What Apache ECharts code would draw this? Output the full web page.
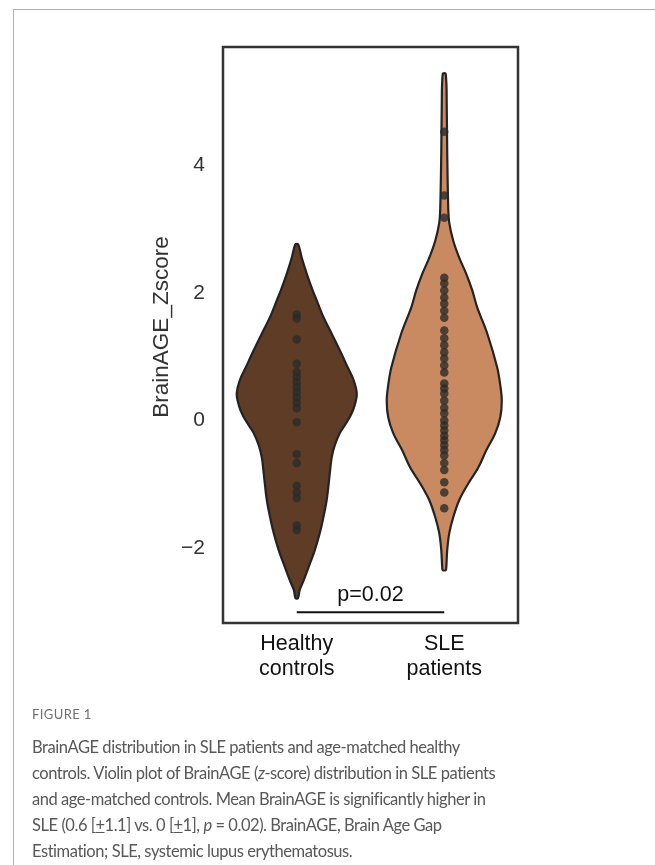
<!DOCTYPE html>
<html><head><meta charset="utf-8">
<script src="https://cdn.jsdelivr.net/npm/echarts@6/dist/echarts.min.js"></script>
<style>
html,body{margin:0;padding:0;background:#fff;}
#wrap{position:relative;width:655px;height:865px;overflow:hidden;background:#fff;}
#frame{position:absolute;left:13px;top:9px;width:760px;height:900px;border-left:1.5px solid #b4b4b4;border-top:1.5px solid #b4b4b4;}
#chart{position:absolute;left:0;top:0;width:655px;height:865px;}
#cap{position:absolute;left:32px;top:704px;width:610px;font-family:Lato,'Open Sans',sans-serif;color:#585858;}
#cap .fig{font-size:13px;letter-spacing:0.4px;color:#707070;line-height:20px;margin-bottom:10px;}
#cap .txt{font-size:16.5px;line-height:26px;letter-spacing:-0.45px;}
#cap u{text-decoration:underline;}
</style></head>
<body><div id="wrap"><div id="frame"></div><div id="chart"></div>
<div id="cap"><div class="fig">FIGURE 1</div><div class="txt">BrainAGE distribution in SLE patients and age-matched healthy<br>controls. Violin plot of BrainAGE (<i>z</i>-score) distribution in SLE patients<br>and age-matched controls. Mean BrainAGE is significantly higher in<br>SLE (0.6 [<u>+</u>1.1] vs. 0 [<u>+</u>1], <i>p</i> = 0.02). BrainAGE, Brain Age Gap<br>Estimation; SLE, systemic lupus erythematosus.</div></div>
</div>
<script>
// ---- data ----
const categories = ['Healthy\ncontrols', 'SLE\npatients'];
const yTickValues = [-2, 0, 2, 4];
const yAxisTitle = 'BrainAGE_Zscore';
// violin outlines: value, half width (fraction of category band)
const healthyProfileValues = [2.76, 2.55, 2.30, 2.04, 1.88, 1.61, 1.36, 1.10, 0.83, 0.63, 0.42, 0.24, 0.08, -0.08, -0.20, -0.39, -0.58, -0.83, -1.25, -1.57, -1.77, -2.04, -2.30, -2.51, -2.66, -2.79];
const healthyProfileWidths = [0.01, 0.034, 0.068, 0.108, 0.136, 0.183, 0.237, 0.292, 0.346, 0.386, 0.407, 0.393, 0.366, 0.325, 0.292, 0.258, 0.237, 0.224, 0.203, 0.176, 0.156, 0.122, 0.081, 0.047, 0.02, 0.008];
const sleProfileValues = [5.44, 4.91, 4.23, 3.34, 3.10, 2.82, 2.55, 2.30, 2.04, 1.77, 1.36, 0.83, 0.55, 0.31, 0.05, -0.20, -0.47, -0.74, -0.99, -1.25, -1.52, -1.77, -2.04, -2.30, -2.35];
const sleProfileWidths = [0.01, 0.017, 0.02, 0.027, 0.034, 0.061, 0.102, 0.149, 0.19, 0.224, 0.292, 0.359, 0.38, 0.39, 0.38, 0.346, 0.285, 0.231, 0.163, 0.102, 0.061, 0.034, 0.02, 0.014, 0.01];
const healthyPoints = [1.66, 1.60, 1.27, 0.89, 0.76, 0.68, 0.60, 0.52, 0.44, 0.36, 0.28, 0.19, -0.03, -0.53, -0.67, -1.03, -1.13, -1.22, -1.65, -1.72];
const slePoints = [4.53, 3.53, 3.18, 2.24, 2.15, 2.04, 1.93, 1.83, 1.72, 1.61, 1.41, 1.29, 1.18, 1.07, 0.97, 0.86, 0.75, 0.58, 0.50, 0.42, 0.31, 0.20, 0.11, 0.00, -0.08, -0.16, -0.24, -0.31, -0.39, -0.47, -0.55, -0.67, -0.78, -0.97, -1.13, -1.38];
const pLineValue = -3.01;
const pTextValue = -2.74;
const pText = 'p=0.02';
const yMin = -3.18, yMax = 5.86;

// ---- chart ----
const violinColors = ['#5e3c25', '#c98a62'];
const profiles = [
  healthyProfileValues.map((v, i) => [v, healthyProfileWidths[i]]),
  sleProfileValues.map((v, i) => [v, sleProfileWidths[i]])
];
const font = "'Liberation Sans', Arial, sans-serif";
const chart = echarts.init(document.getElementById('chart'), null, {renderer: 'canvas'});
chart.setOption({
  animation: false,
  backgroundColor: 'transparent',
  grid: {left: 223, right: 137, top: 47, bottom: 242, show: true, borderColor: '#333', borderWidth: 2.5, backgroundColor: 'transparent'},
  xAxis: {
    type: 'category', data: categories,
    axisLine: {show: false}, axisTick: {show: false}, splitLine: {show: false},
    axisLabel: {fontFamily: font, fontSize: 21.5, color: '#111', lineHeight: 25, margin: 9}
  },
  yAxis: {
    type: 'value', min: yMin, max: yMax,
    name: yAxisTitle, nameLocation: 'middle', nameRotate: 90, nameGap: 50,
    nameTextStyle: {fontFamily: font, fontSize: 22.5, color: '#333', padding: [0, 0, 0, 16]},
    axisLine: {show: false}, axisTick: {show: false}, splitLine: {show: false},
    axisLabel: {customValues: yTickValues, fontFamily: font, fontSize: 21, color: '#333', margin: 18,
      formatter: v => String(v).replace('-', '\u2212')}
  },
  series: [
    {
      type: 'custom', z: 1,
      data: categories.map((c, i) => [i, 0]),
      renderItem: function (params, api) {
        const idx = params.dataIndex;
        const prof = profiles[idx];
        const cx = api.coord([idx, 0])[0];
        const band = api.size([1, 0])[0];
        const right = prof.map(p => [cx + p[1] * band, api.coord([idx, p[0]])[1]]);
        const left = prof.slice().reverse().map(p => [cx - p[1] * band, api.coord([idx, p[0]])[1]]);
        return {
          type: 'polygon',
          shape: {points: right.concat(left), smooth: 0.35},
          style: {fill: violinColors[idx], stroke: '#232323', lineWidth: 2.2}
        };
      }
    },
    {
      type: 'scatter', z: 3, symbolSize: 8.5,
      itemStyle: {color: '#2a2a2a'},
      data: healthyPoints.map(v => [0, v])
    },
    {
      type: 'scatter', z: 3, symbolSize: 8.5,
      itemStyle: {color: '#2a2a2a'},
      data: slePoints.map(v => [1, v])
    },
    {
      type: 'line', z: 4, symbol: 'none', silent: true,
      lineStyle: {color: '#111', width: 2},
      data: [[0, pLineValue], [1, pLineValue]]
    },
    {
      type: 'custom', z: 4, silent: true,
      data: [[0, pTextValue]],
      renderItem: function (params, api) {
        const a = api.coord([0, pTextValue]);
        const b = api.coord([1, pTextValue]);
        return {
          type: 'text',
          style: {text: pText, x: (a[0] + b[0]) / 2, y: a[1], align: 'center', verticalAlign: 'middle',
            font: '21.5px ' + font, fill: '#111'}
        };
      }
    }
  ]
});
</script></body></html>
